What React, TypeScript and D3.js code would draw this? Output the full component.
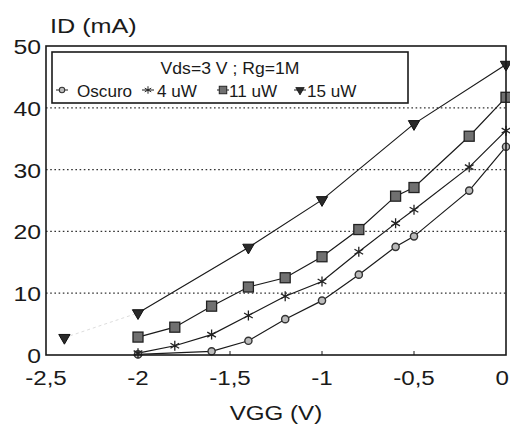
import React from 'react';
import * as d3 from 'd3';

// VGG (V) -> ID (mA)
const vggOscuro = [-2, -1.6, -1.4, -1.2, -1, -0.8, -0.6, -0.5, -0.2, 0];
const idOscuro = [0.1, 0.6, 2.3, 5.8, 8.8, 13.0, 17.5, 19.2, 26.6, 33.7];

const vgg4uW = [-2, -1.8, -1.6, -1.4, -1.2, -1, -0.8, -0.6, -0.5, -0.2, 0];
const id4uW = [0.3, 1.5, 3.3, 6.4, 9.5, 11.9, 16.7, 21.3, 23.5, 30.4, 36.3];

const vgg11uW = [-2, -1.8, -1.6, -1.4, -1.2, -1, -0.8, -0.6, -0.5, -0.2, 0];
const id11uW = [2.9, 4.5, 7.9, 11.0, 12.5, 15.9, 20.3, 25.7, 27.1, 35.4, 41.7];

const vgg15uW = [-2.4, -2, -1.4, -1, -0.5, 0];
const id15uW = [2.8, 6.8, 17.4, 25.1, 37.4, 47.0];

const seriesNames = ['Oscuro', '4 uW', '11 uW', '15 uW'];
const xTicks = [-2.5, -2, -1.5, -1, -0.5, 0];
const yTicks = [0, 10, 20, 30, 40, 50];
const gridValues = [10, 20, 30, 40];
const legendTitle = 'Vds=3 V ; Rg=1M';

const W = 510;
const H = 425;
const margin = { top: 46, right: 3, bottom: 70, left: 46 };
const FONT = '"Liberation Sans", Arial, Helvetica, sans-serif';
const INK = '#1a1a1a';

type Pt = { x: number; y: number };
const zip = (xs: number[], ys: number[]): Pt[] => xs.map((x, i) => ({ x, y: ys[i] }));

const series = [
  { name: seriesNames[0], kind: 'circle', pts: zip(vggOscuro, idOscuro) },
  { name: seriesNames[1], kind: 'star', pts: zip(vgg4uW, id4uW) },
  { name: seriesNames[2], kind: 'square', pts: zip(vgg11uW, id11uW) },
  { name: seriesNames[3], kind: 'triangle', pts: zip(vgg15uW, id15uW) },
];

const fmt = (v: number) => String(v).replace('.', ',');

// scanned text is a bit wider than the font, so stretch it horizontally
const Label = ({ x, y, size, anchor = 'start', sx = 1.15, children }: any) => (
  <text
    transform={`translate(${x},${y}) scale(${sx},1)`}
    fontFamily={FONT}
    fontSize={size}
    textAnchor={anchor}
    fill={INK}
  >
    {children}
  </text>
);

const Marker = ({ kind, x, y }: { kind: string; x: number; y: number }) => {
  if (kind === 'circle') {
    return <circle cx={x} cy={y} r={3.6} fill="#bbb" stroke="#333" strokeWidth={1.4} />;
  }
  if (kind === 'star') {
    const p = d3.symbol(d3.symbolAsterisk, 70)() as string;
    return <path d={p} transform={`translate(${x},${y})`} fill="none" stroke="#222" strokeWidth={1.3} />;
  }
  if (kind === 'square') {
    return <rect x={x - 5} y={y - 5} width={10} height={10} fill="#707070" stroke="#222" strokeWidth={1.3} />;
  }
  const p = d3.symbol(d3.symbolTriangle, 55)() as string;
  return <path d={p} transform={`translate(${x},${y}) rotate(180)`} fill="#2a2a2a" stroke="#111" strokeWidth={1} />;
};

export default function App() {
  const x = d3.scaleLinear().domain([-2.5, 0]).range([margin.left, W - margin.right - 1]);
  const y = d3.scaleLinear().domain([0, 50]).range([H - margin.bottom, margin.top]);
  const line = d3.line<Pt>().x(d => x(d.x)).y(d => y(d.y));

  const x0 = x(-2.5);
  const x1 = x(0);
  const yTop = y(50);
  const yBot = y(0);

  const legend = { x: 52, y: 52, w: 356, h: 51 };
  const legendItems = [
    { kind: 'circle', mx: 62, tx: 77 },
    { kind: 'star', mx: 148, tx: 157 },
    { kind: 'square', mx: 223, tx: 229 },
    { kind: 'triangle', mx: 300, tx: 307 },
  ];

  return (
    <svg width={W} height={H} style={{ position: 'absolute', left: 0, top: 0, background: '#fff' }}>
      <rect width={W} height={H} fill="#fff" />

      {/* dotted grid */}
      {gridValues.map(v => (
        <line key={v} x1={x0} x2={x1} y1={y(v)} y2={y(v)}
          stroke="#333" strokeWidth={1.3} strokeDasharray="1.6,2.6" />
      ))}

      {/* small inner ticks on the x axis */}
      {xTicks.slice(1, -1).map(v => (
        <line key={v} x1={x(v)} x2={x(v)} y1={yBot} y2={yBot - 4} stroke={INK} strokeWidth={1} />
      ))}

      {/* series lines */}
      {series.map(s => {
        if (s.kind === 'triangle') {
          // first segment is barely visible in the scan
          return (
            <g key={s.name}>
              <path d={line(s.pts.slice(0, 2)) as string} fill="none" stroke="#ddd" strokeWidth={1} strokeDasharray="3,3" />
              <path d={line(s.pts.slice(1)) as string} fill="none" stroke={INK} strokeWidth={1.2} />
            </g>
          );
        }
        return <path key={s.name} d={line(s.pts) as string} fill="none" stroke={INK} strokeWidth={1.2} />;
      })}

      {/* markers */}
      {series.map(s => (
        <g key={s.name + '-m'}>
          {s.pts.map((d, i) => <Marker key={i} kind={s.kind} x={x(d.x)} y={y(d.y)} />)}
        </g>
      ))}

      {/* frame */}
      <rect x={x0} y={yTop} width={x1 - x0} height={yBot - yTop} fill="none" stroke={INK} strokeWidth={1.6} />

      {/* legend */}
      <rect x={legend.x} y={legend.y} width={legend.w} height={legend.h} fill="#fff" stroke={INK} strokeWidth={1.6} />
      <Label x={legend.x + legend.w / 2} y={74} size={16} anchor="middle" sx={1.1}>{legendTitle}</Label>
      {legendItems.map((it, i) => (
        <g key={i}>
          <line x1={it.mx - 6} x2={it.mx + 6} y1={90} y2={90} stroke={INK} strokeWidth={1} />
          <g transform={`translate(${it.mx},90) scale(0.75)`}>
            <Marker kind={it.kind} x={0} y={0} />
          </g>
          <Label x={it.tx} y={97} size={16} sx={1.07}>{seriesNames[i]}</Label>
        </g>
      ))}

      {/* y tick labels */}
      {yTicks.map(v => (
        <Label key={v} x={41} y={y(v) + 8} size={21} anchor="end" sx={1.18}>{fmt(v)}</Label>
      ))}

      {/* x tick labels; the last one is pulled in so it stays on the page */}
      {xTicks.map(v => {
        const last = v === xTicks[xTicks.length - 1];
        return (
          <Label key={v} x={last ? W - 1 : x(v)} y={385} size={21} anchor={last ? 'end' : 'middle'} sx={1.15}>
            {fmt(v)}
          </Label>
        );
      })}

      {/* axis titles */}
      <Label x={50} y={33} size={21} sx={1.2}>ID (mA)</Label>
      <Label x={(x0 + x1) / 2} y={420} size={21} anchor="middle" sx={1.15}>VGG (V)</Label>
    </svg>
  );
}
